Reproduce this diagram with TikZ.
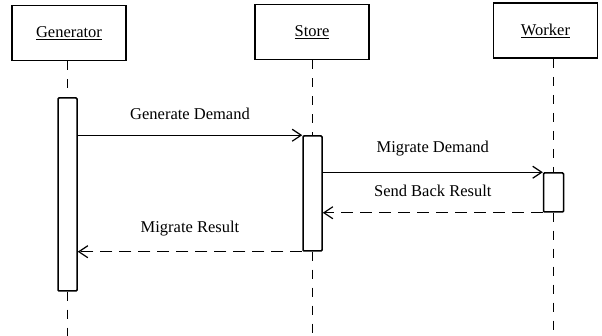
\documentclass[tikz,border=0pt]{standalone}
\usepackage{fontspec}
\setmainfont{Liberation Serif}
\usetikzlibrary{arrows.meta}
\begin{document}
\begin{tikzpicture}[x=1pt,y=-1pt,
  actor/.style={draw, line width=1.6pt, minimum width=114pt, minimum height=55pt,
    inner sep=0pt, font=\fontsize{16.5}{19}\selectfont},
  activation/.style={draw, line width=1.5pt, fill=white, minimum width=19pt,
    inner sep=0pt, rounded corners=1pt},
  lifeline/.style={line width=1.7pt, dash pattern=on 9pt off 9pt},
  call/.style={line width=1.3pt, -{Straight Barb[length=9pt,width=12pt,line width=1.2pt]}},
  reply/.style={call, dash pattern=on 12pt off 7pt},
  msglabel/.style={midway, above=12pt, font=\fontsize{16.5}{19}\selectfont}]
  \useasboundingbox (0,0) rectangle (602,336);

  % participants
  \node[actor] (gen) at (69,33) {\underline{Generator}};
  \node[actor] (store) at (312,32) {\underline{Store}};
  \node[actor, minimum width=104pt] (worker) at (545.5,30.5) {\underline{Worker}};

  % activation bars
  \node[activation, minimum height=193pt] (gbar) at (67.5,194.5) {};
  \node[activation, minimum height=115pt] (sbar) at (312.5,193.5) {};
  \node[activation, minimum width=20pt, minimum height=39pt] (wbar) at (553.5,192.5) {};

  % lifeline ends
  \coordinate (gend) at (67.5,336);
  \coordinate (send) at (312.5,336);
  \coordinate (wend) at (553.5,336);

  % lifelines
  \draw[lifeline] (gen.south -| gbar) -- (gbar.north);
  \draw[lifeline] (gbar.south) -- (gend);
  \draw[lifeline] (store.south -| sbar) -- (sbar.north);
  \draw[lifeline] (sbar.south) -- (send);
  \draw[lifeline] (worker.south -| wbar) -- (wbar.north);
  \draw[lifeline] (wbar.south) -- (wend);

  % messages
  \draw[call] (gbar.east |- sbar.north) -- (sbar.north west)
    node[msglabel] {Generate Demand};
  \draw[call] (sbar.east |- wbar.north) -- (wbar.north west)
    node[msglabel] {Migrate Demand};
  \draw[reply] (wbar.south west) -- (sbar.east |- wbar.south)
    node[msglabel] {Send Back Result};
  \draw[reply] (sbar.south west) -- (gbar.east |- sbar.south)
    node[msglabel] {Migrate Result};
\end{tikzpicture}
\end{document}
